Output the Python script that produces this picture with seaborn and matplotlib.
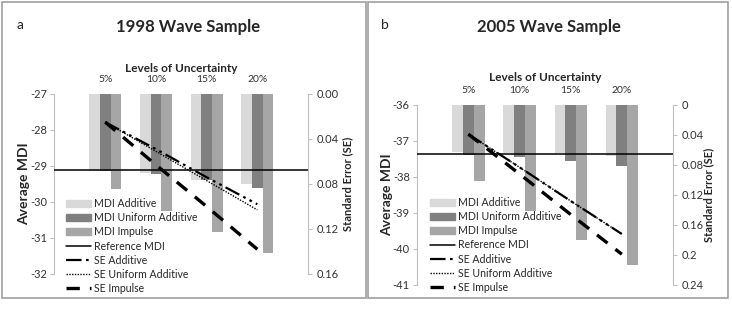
import numpy as np
import pandas as pd
import matplotlib
matplotlib.use('Agg')
import matplotlib.pyplot as plt
import seaborn as sns
from matplotlib.patches import Patch, Rectangle
from matplotlib.lines import Line2D

sns.set_style('white')
plt.rcParams['font.family'] = ['Lato', 'DejaVu Sans']

levels = ['5%', '10%', '15%', '20%']
series = ['MDI Additive', 'MDI Uniform Additive', 'MDI Impulse']

# panel a - 1998 wave
mdi_add_98 = [-29.14, -29.20, -29.39, -29.51]
mdi_uni_98 = [-29.15, -29.23, -29.40, -29.62]
mdi_imp_98 = [-29.65, -30.24, -30.84, -31.43]
ref_98 = -29.11
se_add_98 = [0.025, 0.049, 0.074, 0.098]
se_uni_98 = [0.025, 0.051, 0.077, 0.103]
se_imp_98 = [0.025, 0.063, 0.100, 0.138]

# panel b - 2005 wave
mdi_add_05 = [-37.30, -37.33, -37.33, -37.42]
mdi_uni_05 = [-37.39, -37.44, -37.56, -37.69]
mdi_imp_05 = [-38.10, -38.94, -39.74, -40.44]
ref_05 = -37.35
se_add_05 = [0.039, 0.083, 0.128, 0.172]
se_uni_05 = [0.039, 0.083, 0.128, 0.172]
se_imp_05 = [0.039, 0.092, 0.146, 0.199]

bar_colors = ['#d9d9d9', '#808080', '#a6a6a6']
spine_col = '#bfbfbf'


def make_df(add, uni, imp):
    rows = []
    for name, vals in zip(series, [add, uni, imp]):
        for lv, v in zip(levels, vals):
            rows.append({'level': lv, 'series': name, 'mdi': v})
    return pd.DataFrame(rows)


def draw_panel(rect, df, ref, se_add, se_uni, se_imp, ylims, yticks, se_max, se_ticks, se_fmt,
               xpad, se_pad):
    ax = fig.add_axes(rect)
    sns.barplot(data=df, x='level', y='mdi', hue='series', palette=bar_colors,
                width=0.63, saturation=1, linewidth=0, ax=ax, legend=False)
    ax.set_ylim(*ylims)
    ax.set_yticks(yticks)
    ax.set_yticklabels([str(t) for t in yticks])
    ax.set_xlim(-1.01, 4.0)
    ax.axhline(ref, color='black', lw=1.1, zorder=4)
    ax.xaxis.tick_top()
    ax.xaxis.set_label_position('top')
    ax.set_xlabel('Levels of Uncertainty', fontsize=8.5, fontweight='bold', labelpad=xpad)
    ax.set_ylabel('Average MDI', fontsize=10, fontweight='bold', labelpad=0)
    ax.tick_params(axis='x', length=0, pad=7, labelsize=7.5, colors='#333333')
    ax.tick_params(axis='y', length=3, width=0.8, color=spine_col, labelsize=8,
                   labelcolor='#333333', left=True, direction='out', pad=2)
    for s in ['top', 'bottom', 'right']:
        ax.spines[s].set_visible(False)
    ax.spines['left'].set_color(spine_col)

    ax2 = ax.twinx()
    xs = np.arange(len(levels))
    ax2.plot(xs, se_add, color='black', lw=1.6, dashes=[7, 2, 1.2, 2, 1.2, 2])
    ax2.plot(xs, se_uni, color='black', lw=1.0, ls=(0, (1, 1)))
    ax2.plot(xs, se_imp, color='black', lw=2.4, dashes=[4, 3])
    ax2.set_ylim(se_max, 0)
    ax2.set_yticks(se_ticks)
    ax2.set_yticklabels([se_fmt(t) for t in se_ticks])
    ax2.set_ylabel('Standard Error (SE)', fontsize=8, fontweight='bold', labelpad=se_pad)
    ax2.tick_params(axis='y', length=3, width=0.8, color=spine_col, labelsize=8,
                    labelcolor='#333333', direction='out', pad=3)
    for s in ['top', 'bottom', 'left']:
        ax2.spines[s].set_visible(False)
    ax2.spines['right'].set_color(spine_col)
    return ax


fig = plt.figure(figsize=(7.32, 3.09), dpi=100)

df98 = make_df(mdi_add_98, mdi_uni_98, mdi_imp_98)
df05 = make_df(mdi_add_05, mdi_uni_05, mdi_imp_05)

draw_panel([0.0738, 0.1133, 0.347, 0.5825], df98, ref_98, se_add_98, se_uni_98, se_imp_98,
           (-32, -27), [-27, -28, -29, -30, -31, -32], 0.16,
           [0, 0.04, 0.08, 0.12, 0.16], lambda t: f'{t:.2f}', 2, 3)
draw_panel([0.5693, 0.0777, 0.3501, 0.5825], df05, ref_05, se_add_05, se_uni_05, se_imp_05,
           (-41, -36), [-36, -37, -38, -39, -40, -41], 0.24,
           [0, 0.04, 0.08, 0.12, 0.16, 0.2, 0.24], lambda t: f'{t:g}', 4, 0)

handles = [Patch(color=c) for c in bar_colors] + [
    Line2D([], [], color='black', lw=1.1),
    Line2D([], [], color='black', lw=1.6, dashes=[7, 2, 1.2, 2, 1.2, 2]),
    Line2D([], [], color='black', lw=1.0, ls=(0, (1, 1))),
    Line2D([], [], color='black', lw=2.4, dashes=[4, 3]),
]
labels = series + ['Reference MDI', 'SE Additive', 'SE Uniform Additive', 'SE Impulse']
for x0, y0 in [(66 / 732, 1 - 198 / 309), (430 / 732, 1 - 197 / 309)]:
    fig.legend(handles, labels, loc='upper left', bbox_to_anchor=(x0, y0), frameon=False,
               fontsize=7.6, labelspacing=0.3, handlelength=2.4, handleheight=0.6,
               handletextpad=0.3, borderpad=0, borderaxespad=0)

# panel frames, titles and letters
fig.patches.append(Rectangle((2 / 732, 1 - 298 / 309), 364 / 732, 296 / 309,
                             transform=fig.transFigure, fill=False, ec='#a0a0a0', lw=1.2))
fig.patches.append(Rectangle((368 / 732, 1 - 298 / 309), 360 / 732, 296 / 309,
                             transform=fig.transFigure, fill=False, ec='#a0a0a0', lw=1.2))
fig.text(188 / 732, 1 - 27 / 309, '1998 Wave Sample', ha='center', va='center',
         fontsize=12, fontweight='bold')
fig.text(549 / 732, 1 - 27 / 309, '2005 Wave Sample', ha='center', va='center',
         fontsize=12, fontweight='bold')
fig.text(20 / 732, 1 - 25 / 309, 'a', ha='center', va='center', fontsize=10)
fig.text(385 / 732, 1 - 25 / 309, 'b', ha='center', va='center', fontsize=10)

fig.savefig('out.png', dpi=100)
